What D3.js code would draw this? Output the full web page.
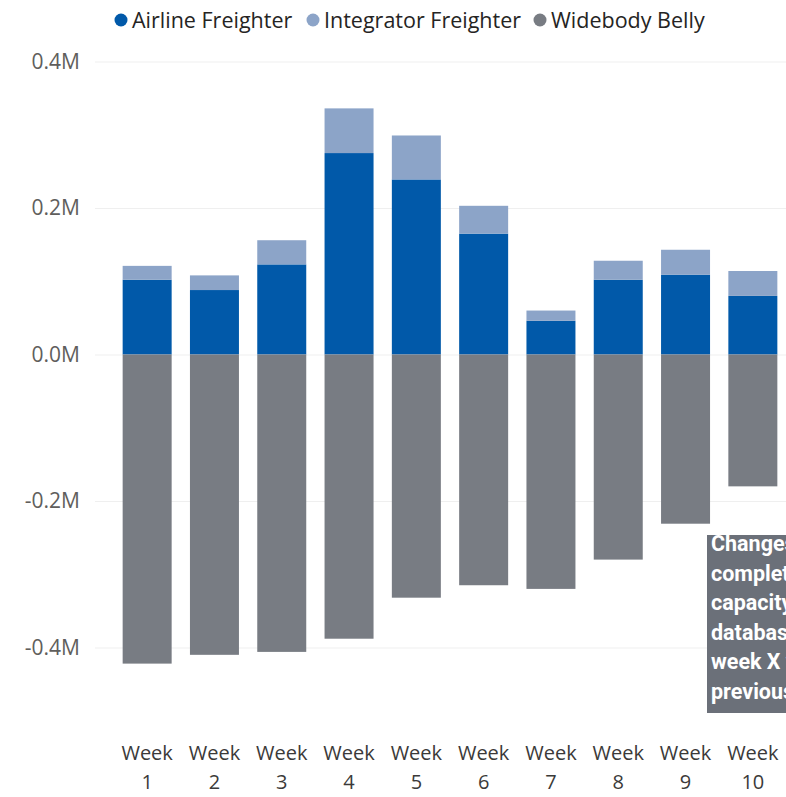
<!DOCTYPE html>
<html>
<head>
<meta charset="utf-8">
<script src="https://cdn.jsdelivr.net/npm/d3@7"></script>
<style>
    body { margin: 0; background: #fff; overflow: hidden; }
    svg { display: block; }
</style>
</head>
<body>
<svg id="chart" width="786" height="797"></svg>
<script>
const weeks = ['Week 1', 'Week 2', 'Week 3', 'Week 4', 'Week 5', 'Week 6', 'Week 7', 'Week 8', 'Week 9', 'Week 10'];
const airlineFreighter = [0.102, 0.088, 0.123, 0.275, 0.239, 0.165, 0.046, 0.102, 0.109, 0.080];
const integratorFreighter = [0.019, 0.020, 0.033, 0.061, 0.060, 0.038, 0.014, 0.026, 0.034, 0.034];
const widebodyBelly = [-0.422, -0.410, -0.406, -0.388, -0.332, -0.315, -0.320, -0.280, -0.231, -0.180];
const seriesNames = ['Airline Freighter', 'Integrator Freighter', 'Widebody Belly'];
const yTicks = [-0.4, -0.2, 0, 0.2, 0.4];
const tipLines = ['Changes in', 'completed', 'capacity in', 'database', 'week X vs', 'previous week'];

const colors = ['#0159a9', '#8ca4c8', '#787c83'];

const svg = d3.select('#chart');

const rows = weeks.map((w, i) => ({
    week: w,
    'Airline Freighter': airlineFreighter[i],
    'Integrator Freighter': integratorFreighter[i],
    'Widebody Belly': widebodyBelly[i]
}));

const stack = d3.stack()
    .keys(seriesNames)
    .offset(d3.stackOffsetDiverging);
const series = stack(rows);

const xScale = d3.scaleBand()
    .domain(weeks)
    .range([113.5, 786.5])
    .paddingInner(0.272)
    .paddingOuter(0.136);

const yScale = d3.scaleLinear()
    .domain([-0.4, 0.4])
    .range([647.5, 61.5]);

// gridlines
svg.append('g')
    .selectAll('line')
    .data(yTicks)
    .join('line')
    .attr('x1', 95)
    .attr('x2', 786)
    .attr('y1', d => yScale(d) + 0.5)
    .attr('y2', d => yScale(d) + 0.5)
    .attr('stroke', '#efefef')
    .attr('stroke-width', 1);

// y axis
const yAxis = d3.axisLeft(yScale)
    .tickValues(yTicks)
    .tickSize(0)
    .tickPadding(0)
    .tickFormat(d => d.toFixed(1) + 'M');

svg.append('g')
    .attr('transform', 'translate(80,0)')
    .call(yAxis)
    .call(g => g.select('.domain').remove())
    .selectAll('text')
    .attr('font-family', '"Open Sans", sans-serif')
    .attr('font-size', 21)
    .attr('fill', '#605e5c');

// bars
svg.append('g')
    .selectAll('g')
    .data(series)
    .join('g')
    .attr('fill', (d, i) => colors[i])
    .selectAll('rect')
    .data(d => d)
    .join('rect')
    .attr('x', d => xScale(d.data.week))
    .attr('width', xScale.bandwidth())
    .attr('y', d => yScale(Math.max(d[0], d[1])))
    .attr('height', d => Math.abs(yScale(d[0]) - yScale(d[1])));

// x axis labels (two lines)
svg.append('g')
    .selectAll('text')
    .data(weeks)
    .join('text')
    .attr('y', 760)
    .attr('text-anchor', 'middle')
    .attr('font-family', '"Open Sans", sans-serif')
    .attr('font-size', 20)
    .attr('fill', '#3b3a39')
    .each(function (d) {
        const cx = xScale(d) + xScale.bandwidth() / 2;
        const parts = d.split(' ');
        d3.select(this).append('tspan')
            .attr('x', cx)
            .text(parts[0]);
        d3.select(this).append('tspan')
            .attr('x', cx)
            .attr('dy', 29)
            .text(parts[1]);
    });

// legend
const legendX = [121, 313, 540];
const legend = svg.append('g');
legend.selectAll('circle')
    .data(seriesNames)
    .join('circle')
    .attr('cx', (d, i) => legendX[i])
    .attr('cy', 20)
    .attr('r', 6.5)
    .attr('fill', (d, i) => colors[i]);
legend.selectAll('text')
    .data(seriesNames)
    .join('text')
    .attr('x', (d, i) => legendX[i] + 11)
    .attr('y', 28)
    .attr('font-family', '"Open Sans", sans-serif')
    .attr('font-size', 21.5)
    .attr('fill', '#252423')
    .text(d => d);

// tooltip box, cut by the right edge of the page
svg.append('clipPath')
    .attr('id', 'tip-clip')
    .append('rect')
    .attr('x', 707)
    .attr('y', 535)
    .attr('width', 79)
    .attr('height', 178);

const tip = svg.append('g')
    .attr('clip-path', 'url(#tip-clip)');
tip.append('rect')
    .attr('x', 707)
    .attr('y', 535)
    .attr('width', 120)
    .attr('height', 178)
    .attr('fill', '#6b7079');
tip.selectAll('text')
    .data(tipLines)
    .join('text')
    .attr('x', 711)
    .attr('y', (d, i) => 551 + i * 29.6)
    .attr('font-family', 'Roboto, sans-serif')
    .attr('font-weight', 'bold')
    .attr('font-size', 21.5)
    .attr('fill', '#ffffff')
    .text(d => d);
</script>
</body>
</html>
